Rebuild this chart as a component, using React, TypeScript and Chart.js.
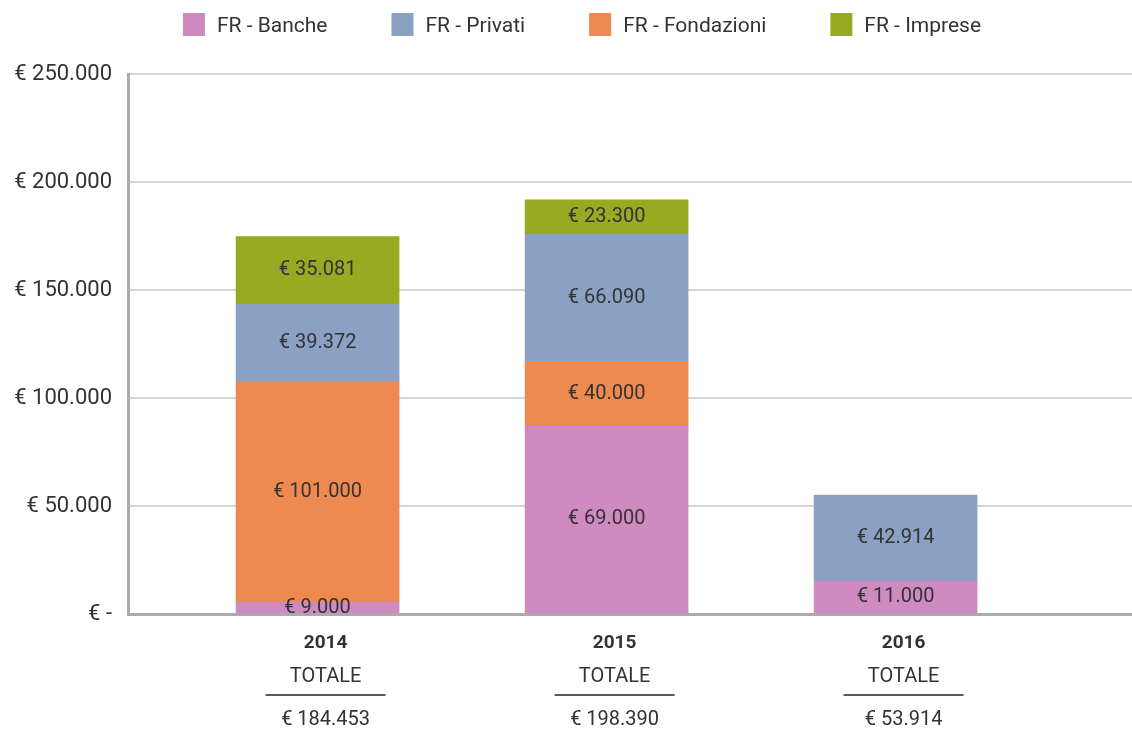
import React, { useEffect, useRef } from "react";
import { Chart, registerables } from "chart.js";

Chart.register(...registerables);

// Categories
const years = ["2014", "2015", "2016"];
const xPositions = [0, 1, 2];

// Bar heights (as drawn in the picture, in €)
const bancheBars = [5500, 87200, 15200];
const fondazioniBars = [102000, 29700, null];
const privatiBars = [35900, 59000, 39800];
const impreseBars = [31300, 15900, null];

// Printed label values (in €)
const bancheLabels = [9000, 69000, 11000];
const fondazioniLabels = [101000, 40000, null];
const privatiLabels = [39372, 66090, 42914];
const impreseLabels = [35081, 23300, null];

// Axis
const yMin = 0;
const yMax = 250000;
const yStep = 50000;
const xMin = -0.656;
const xMax = 2.818;

const seriesNames = ["FR - Banche", "FR - Privati", "FR - Fondazioni", "FR - Imprese"];
const colors = {
  banche: "#CF8AC0",
  privati: "#8AA1C3",
  fondazioni: "#EE894F",
  imprese: "#98A922",
};

const FONT = "Roboto, 'Noto Sans', sans-serif";
const TEXT = "#333333";

const fmt = (n: number) => n.toString().replace(/\B(?=(\d{3})+(?!\d))/g, ".");

const totals = years.map(
  (_, i) =>
    (bancheLabels[i] || 0) +
    (fondazioniLabels[i] || 0) +
    (privatiLabels[i] || 0) +
    (impreseLabels[i] || 0)
);

const toPoints = (arr: (number | null)[]) =>
  arr
    .map((v, i) => (v == null ? null : { x: xPositions[i], y: v }))
    .filter((p) => p !== null) as { x: number; y: number }[];

export default function App() {
  const ref = useRef<HTMLCanvasElement | null>(null);

  useEffect(() => {
    if (!ref.current) return;

    const barLabelPlugin = {
      id: "barLabels",
      afterDatasetsDraw(chart: any) {
        const ctx = chart.ctx;
        ctx.save();
        ctx.font = `20px ${FONT}`;
        ctx.fillStyle = TEXT;
        ctx.textAlign = "center";
        ctx.textBaseline = "middle";
        chart.data.datasets.forEach((ds: any, di: number) => {
          const meta = chart.getDatasetMeta(di);
          meta.data.forEach((el: any, j: number) => {
            const txt = ds.valueLabels[j];
            if (!txt) return;
            const { x, y, base } = el.getProps(["x", "y", "base"], true);
            ctx.fillText(txt, x, (y + base) / 2);
          });
        });
        ctx.restore();
      },
    };

    const extrasPlugin = {
      id: "extras",
      afterDraw(chart: any) {
        const ctx = chart.ctx;
        ctx.save();
        // Legend
        const legendColors = [colors.banche, colors.privati, colors.fondazioni, colors.imprese];
        ctx.font = `21px ${FONT}`;
        const box = 22;
        const boxGap = 12;
        const itemGap = 64;
        const widths = seriesNames.map((s) => box + boxGap + ctx.measureText(s).width);
        const total = widths.reduce((a, b) => a + b, 0) + itemGap * (widths.length - 1);
        let lx = chart.width / 2 + 16 - total / 2;
        seriesNames.forEach((s, i) => {
          ctx.fillStyle = legendColors[i];
          ctx.fillRect(lx, 13, box, 23);
          ctx.fillStyle = TEXT;
          ctx.textAlign = "left";
          ctx.textBaseline = "middle";
          ctx.fillText(s, lx + box + boxGap, 27);
          lx += widths[i] + itemGap;
        });

        // Bottom table
        const xs = chart.scales.x;
        ctx.textAlign = "center";
        ctx.textBaseline = "middle";
        years.forEach((yr, i) => {
          const cx = xs.getPixelForValue(xPositions[i]) + 8;
          ctx.fillStyle = TEXT;
          ctx.font = `bold 19px ${FONT}`;
          ctx.fillText(yr, cx, 643);
          ctx.font = `20px ${FONT}`;
          ctx.fillText("TOTALE", cx, 677);
          ctx.strokeStyle = "#222";
          ctx.lineWidth = 1.5;
          ctx.beginPath();
          ctx.moveTo(cx - 60, 695);
          ctx.lineTo(cx + 60, 695);
          ctx.stroke();
          ctx.fillText("€ " + fmt(totals[i]), cx, 720);
        });
        ctx.restore();
      },
    };

    const mk = (label: string, data: (number | null)[], labels: (number | null)[], color: string) => ({
      label,
      data: toPoints(data),
      valueLabels: labels
        .filter((_, i) => data[i] != null)
        .map((v) => (v == null ? "" : "€ " + fmt(v))),
      backgroundColor: color,
      borderWidth: 0,
      barThickness: 163,
    });

    const chart = new Chart(ref.current, {
      type: "bar",
      data: {
        datasets: [
          mk("FR - Banche", bancheBars, bancheLabels, colors.banche),
          mk("FR - Fondazioni", fondazioniBars, fondazioniLabels, colors.fondazioni),
          mk("FR - Privati", privatiBars, privatiLabels, colors.privati),
          mk("FR - Imprese", impreseBars, impreseLabels, colors.imprese),
        ] as any,
      },
      options: {
        animation: false,
        responsive: true,
        maintainAspectRatio: false,
        layout: { padding: { top: 74, left: 0, right: 0, bottom: 115 } },
        plugins: {
          legend: { display: false },
          tooltip: { enabled: false },
        },
        scales: {
          x: {
            type: "linear",
            stacked: true,
            offset: false,
            min: xMin,
            max: xMax,
            ticks: { display: false },
            grid: { display: false, drawTicks: false, offset: false },
            border: { display: true, color: "#ababab", width: 3 },
            afterFit: (s: any) => {
              s.height = 0;
            },
          },
          y: {
            stacked: true,
            min: yMin,
            max: yMax,
            ticks: {
              stepSize: yStep,
              padding: 16,
              color: TEXT,
              font: { family: FONT, size: 22 },
              callback: (v: any) => (Number(v) === 0 ? "€ -" : "€ " + fmt(Number(v))),
            },
            grid: { color: "#d4d4d4", lineWidth: 2, drawTicks: false },
            border: { display: true, color: "#ababab", width: 3 },
            afterFit: (s: any) => {
              s.width = 128;
            },
          },
        },
      } as any,
      plugins: [barLabelPlugin, extrasPlugin],
    });

    return () => chart.destroy();
  }, []);

  return (
    <div style={{ position: "fixed", left: 0, top: 0, width: 1132, height: 729, background: "#fff" }}>
      <canvas ref={ref} />
    </div>
  );
}
